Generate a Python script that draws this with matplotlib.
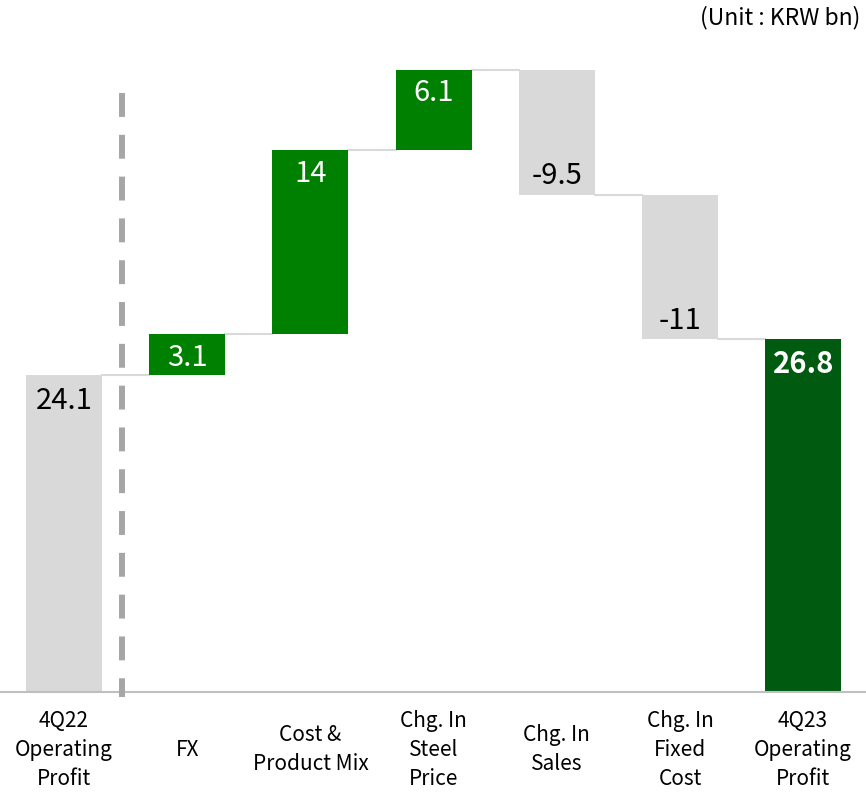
import matplotlib
matplotlib.use('Agg')
import matplotlib.pyplot as plt
import numpy as np

plt.rcParams['font.family'] = ['Noto Sans CJK KR', 'DejaVu Sans']

# Operating profit bridge, 4Q22 -> 4Q23 (KRW bn)
categories = ['4Q22\nOperating\nProfit', 'FX', 'Cost &\nProduct Mix',
              'Chg. In\nSteel\nPrice', 'Chg. In\nSales', 'Chg. In\nFixed\nCost',
              '4Q23\nOperating\nProfit']
start_value = 24.1
changes = [3.1, 14, 6.1, -9.5, -11]
end_value = 26.8
value_labels = ['24.1', '3.1', '14', '6.1', '-9.5', '-11', '26.8']

GREY = '#d9d9d9'
GREEN = '#008000'
DARK_GREEN = '#005a10'

# running totals for the floating bars
levels = np.concatenate([[start_value], start_value + np.cumsum(changes)])
bottoms = [0] + [min(levels[i], levels[i + 1]) for i in range(len(changes))] + [0]
heights = [start_value] + [abs(c) for c in changes] + [end_value]
colors = [GREY] + [GREEN if c > 0 else GREY for c in changes] + [DARK_GREEN]
tops = [b + h for b, h in zip(bottoms, heights)]

fig = plt.figure(figsize=(8.66, 7.93), dpi=100)
ax = fig.add_axes([0, 0.1274, 1, 0.8726])

x = np.arange(len(categories))
w = 0.617
ax.bar(x, heights, bottom=bottoms, width=w, color=colors, zorder=2)

# connectors between neighbouring bars
conn = [start_value] + list(levels[1:])
for i in range(len(categories) - 1):
    ax.plot([x[i] + w / 2, x[i + 1] - w / 2], [conn[i], conn[i]],
            color=GREY, lw=1.5, zorder=1)

# value labels near the end of each bar
for i, lab in enumerate(value_labels):
    if i == 0:
        y, c, fw = tops[i] - 2.0, 'black', 'normal'
    elif i == len(value_labels) - 1:
        y, c, fw = tops[i] - 1.9, 'white', 'bold'
    else:
        ch = changes[i - 1]
        if ch > 0:
            y, c, fw = tops[i] - 1.8, 'white', 'normal'
        else:
            y, c, fw = bottoms[i] + 1.4, 'black', 'normal'
    ax.text(x[i], y, lab, ha='center', va='center', fontsize=21,
            color=c, fontweight=fw, zorder=3)

# separator after the starting bar
ax.plot([0.47, 0.47], [45.5, -0.4], color='#a6a6a6', lw=4.3,
        linestyle=(0, (4, 3)), zorder=3, clip_on=False)

# category labels under the axis
for i, cat in enumerate(categories):
    ax.text(x[i], -4.4, cat, ha='center', va='center', fontsize=15,
            linespacing=1.4, clip_on=False)

ax.text(0.993, 0.975, '(Unit : KRW bn)', transform=ax.transAxes,
        ha='right', va='center', fontsize=16.5)

ax.set_xlim(-0.52, 6.51)
ax.set_ylim(0, 52.6)
for s in ['top', 'right', 'left']:
    ax.spines[s].set_visible(False)
ax.spines['bottom'].set_color('#bfbfbf')
ax.spines['bottom'].set_linewidth(1.5)
ax.set_xticks([])
ax.set_yticks([])

fig.savefig('out.png', dpi=100)
